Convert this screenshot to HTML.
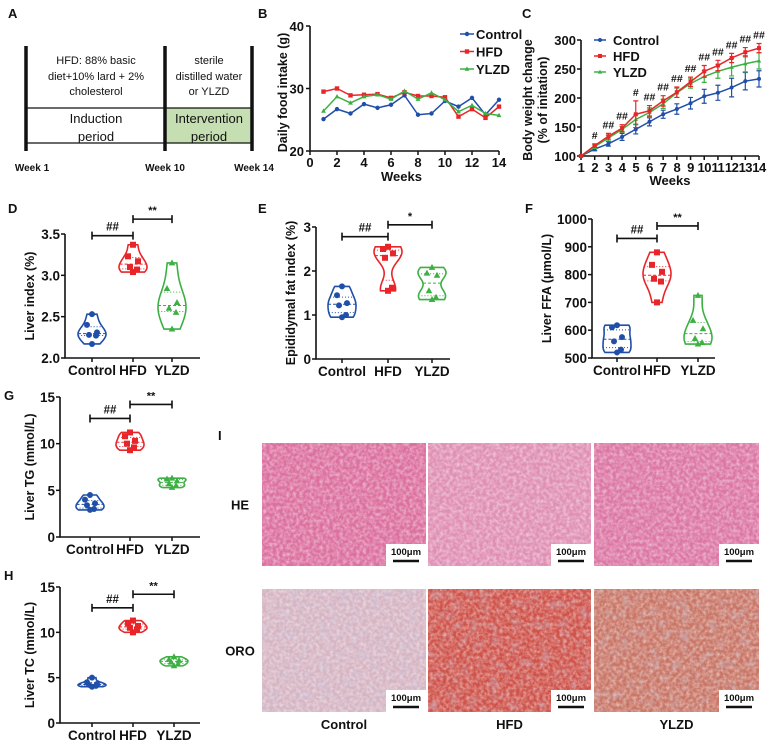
<!DOCTYPE html>
<html><head><meta charset="utf-8"><style>
html,body{margin:0;padding:0;background:#fff;}
svg{display:block;font-family:"Liberation Sans",Arial,sans-serif;font-weight:bold;}
text{fill:#111;}
</style></head><body>
<svg id="fig" width="767" height="744" viewBox="0 0 767 744" xmlns="http://www.w3.org/2000/svg">
<defs>
<filter id="tex" x="0" y="0" width="100%" height="100%"><feTurbulence type="fractalNoise" baseFrequency="0.3" numOctaves="2" seed="3"/><feColorMatrix type="matrix" values="0 0 0 0 1  0 0 0 0 1  0 0 0 0 1  0 0 0 -1.8 1.2"/></filter>
<filter id="tex2" x="0" y="0" width="100%" height="100%"><feTurbulence type="fractalNoise" baseFrequency="0.1" numOctaves="2" seed="7"/><feColorMatrix type="matrix" values="0 0 0 0 0.55  0 0 0 0 0.6  0 0 0 0 0.8  0 0 0 -1.8 0.9"/></filter>
</defs>
</svg>
<script>
// ---------- data ----------
const weeksB = [1,2,3,4,5,6,7,8,9,10,11,12,13,14];
const foodControl = [25.1,26.7,26.0,27.5,26.9,27.4,28.9,25.8,26.0,28.0,27.1,28.5,25.8,28.2];
const foodHFD = [29.5,30.0,28.9,29.0,29.1,28.5,29.4,28.8,28.8,28.6,25.5,26.7,25.3,27.1];
const foodYLZD = [26.4,28.7,27.7,28.7,29.0,28.3,29.6,28.3,29.3,28.2,26.3,27.3,26.0,25.7];
const ticksB_x = [0,2,4,6,8,10,12,14];
const ticksB_y = [20,30,40];

const weeksC = [1,2,3,4,5,6,7,8,9,10,11,12,13,14];
const bwControl = [100,112,121,133,146,159,172,181,191,203,209,218,229,233];
const bwControlErr = [1,3,4,6,8,7,7,9,10,12,13,16,15,14];
const bwHFD = [100,118,134,148,172,178,195,210,228,246,256,269,279,286];
const bwHFDErr = [1,3,5,6,23,9,9,9,8,10,9,8,8,8];
const bwYLZD = [100,116,131,146,163,175,190,209,225,237,246,253,259,264];
const bwYLZDErr = [1,3,5,5,8,8,8,8,8,10,12,15,14,14];
const sigC = ['','#','##','##','#','##','##','##','##','##','##','##','##','##'];
const ticksC_y = [100,150,200,250,300];

const groups = ['Control','HFD','YLZD'];
const liverIndex = [[2.53,2.40,2.31,2.28,2.27,2.17],[3.37,3.23,3.17,3.10,3.07,3.04],[3.15,2.84,2.67,2.60,2.55,2.35]];
const fatIndex = [[1.65,1.45,1.27,1.22,1.00,0.95],[2.55,2.50,2.40,2.30,1.62,1.55],[2.08,1.95,1.90,1.55,1.40,1.35]];
const liverFFA = [[618,610,575,560,530,520],[880,835,810,785,775,700],[725,635,605,570,555,550]];
const liverTG = [[4.5,4.0,3.6,3.4,3.0,2.9],[11.2,10.8,10.3,10.0,9.6,9.3],[6.3,6.2,6.0,5.7,5.5,5.3]];
const liverTC = [[5.0,4.5,4.3,4.2,4.1,4.0],[11.3,11.0,10.7,10.5,10.3,10.0],[7.3,7.0,6.9,6.7,6.5,6.3]];

const svg = document.getElementById('fig');
const NS = 'http://www.w3.org/2000/svg';
const colors = {Control:'#1f4fa8', HFD:'#e8262a', YLZD:'#3cb043'};
function mk(tag, attrs, parent){ const e=document.createElementNS(NS,tag); for(const k in attrs) e.setAttribute(k,attrs[k]); (parent||svg).appendChild(e); return e; }
function txt(x,y,s,size,anchor,parent,extra){ const t=mk('text',Object.assign({x:x,y:y,'font-size':size,'text-anchor':anchor||'middle'},extra||{}),parent); t.textContent=s; return t; }

// panel letters
[['A',8,18],['B',258,18],['C',522,18],['D',8,213],['E',258,213],['F',525,213],['G',4,400],['H',4,580],['I',218,440]].forEach(p=>{
  const t=txt(p[1],p[2],p[0],13,'start');
  
  
});

// ---------- Panel A ----------
(function(){
  const g=mk('g',{});
  
  
  const fill=mk('rect',{x:165,y:108,width:87,height:35,fill:'#c6dfb2'},g);
  
  
  [108,143].forEach(y=>{ const l=mk('line',{x1:26,x2:252,y1:y,y2:y,stroke:'#111','stroke-width':1.3},g);
    
     });
  [26,165,252].forEach(x=>{ const l=mk('line',{x1:x,x2:x,y1:46,y2:151,stroke:'#111','stroke-width':3.5},g);
    
     });
  const lines=[[96,64,'HFD: 88% basic'],[96,80,'diet+10% lard + 2%'],[96,95,'cholesterol'],[209,64,'sterile'],[209,80,'distilled water'],[209,95,'or YLZD']];
  lines.forEach(l=>{ const t=txt(l[0],l[1],l[2],11,'middle',g,{'font-weight':'normal'});
    
     });
  [[96,123,'Induction'],[96,141,'period'],[209,123,'Intervention'],[209,141,'period']].forEach(l=>{
    const t=txt(l[0],l[1],l[2],13,'middle',g,{'font-weight':'normal'});
    
     });
  [[32,171,'Week 1'],[165,171,'Week 10'],[254,171,'Week 14']].forEach(l=>{
    const t=txt(l[0],l[1],l[2],10,'middle',g);
    
     });
})();

// marker helper
function marker(g,kind,x,y,c,r){
  let m;
  if(kind==='Control') m=mk('circle',{cx:x,cy:y,r:r,fill:c},g);
  else if(kind==='HFD') m=mk('rect',{x:x-r,y:y-r,width:2*r,height:2*r,fill:c},g);
  else m=mk('polygon',{points:`${x},${y-r*1.2} ${x-r*1.1},${y+r*0.8} ${x+r*1.1},${y+r*0.8}`,fill:c},g);
  return m;
}

// ---------- Panel B ----------
(function(){
  const X0=310,X1=499,Y0=151,Y1=26;
  const sx=v=>X0+v*(X1-X0)/14, sy=v=>Y0-(v-20)*(Y0-Y1)/20;
  const g=mk('g',{});
  
  
  const ax=mk('path',{d:`M${X0},${Y1} V${Y0} H${X1}`,fill:'none',stroke:'#111','stroke-width':1.6},g);
  
  
  ticksB_y.forEach(v=>{ mk('line',{x1:X0-4,x2:X0,y1:sy(v),y2:sy(v),stroke:'#111','stroke-width':1.5},g);
    const t=txt(X0-6,sy(v)+5,String(v),13,'end',g);
    
     });
  ticksB_x.forEach(v=>{ mk('line',{x1:sx(v),x2:sx(v),y1:Y0,y2:Y0+4,stroke:'#111','stroke-width':1.5},g);
    const t=txt(sx(v),Y0+16,String(v),13,'middle',g);
    
     });
  const xt=txt((X0+X1)/2-3,181,'Weeks',13,'middle',g);
  
  
  const yt=txt(0,0,'Daily food intake (g)',12.5,'middle',g,{transform:`translate(287,${(Y0+Y1)/2+4}) rotate(-90)`});
  
  
  [['Control',foodControl],['HFD',foodHFD],['YLZD',foodYLZD]].forEach(([n,arr])=>{
    const c=colors[n];
    const pl=mk('polyline',{points:arr.map((v,i)=>sx(weeksB[i])+','+sy(v)).join(' '),fill:'none',stroke:c,'stroke-width':1.5},g);
    
    
    arr.forEach((v,i)=>{ const m=marker(g,n,sx(weeksB[i]),sy(v),c,2.2);
      
       });
  });
  ['Control','HFD','YLZD'].forEach((n,i)=>{
    const y=34+i*17.5, c=colors[n];
    mk('line',{x1:460,x2:474,y1:y,y2:y,stroke:c,'stroke-width':1.5},g);
    const m=marker(g,n,467,y,c,2.2);
    
    
    const t=txt(476,y+5,n,13,'start',g);
    
    
  });
})();

// ---------- Panel C ----------
(function(){
  const X0=581,X1=759,Y0=156,Y1=40;
  const sx=v=>X0+(v-1)*(X1-X0)/13, sy=v=>Y0-(v-100)*(Y0-Y1)/200;
  const g=mk('g',{});
  
  
  const ax=mk('path',{d:`M${X0},${Y1} V${Y0} H${X1}`,fill:'none',stroke:'#111','stroke-width':1.6},g);
  
  
  ticksC_y.forEach(v=>{ mk('line',{x1:X0-4,x2:X0,y1:sy(v),y2:sy(v),stroke:'#111','stroke-width':1.5},g);
    const t=txt(X0-5,sy(v)+5,String(v),13,'end',g);
    
     });
  weeksC.forEach(v=>{ mk('line',{x1:sx(v),x2:sx(v),y1:Y0,y2:Y0+4,stroke:'#111','stroke-width':1.5},g);
    const t=txt(sx(v),Y0+16,String(v),13,'middle',g,{'letter-spacing':'-0.5'});
    
     });
  const xt=txt((X0+X1)/2,185,'Weeks',13,'middle',g);
  
  
  const yt=txt(0,0,'Body weight change',12.5,'middle',g,{transform:`translate(532,${(Y0+Y1)/2+2}) rotate(-90)`});
  
  
  const yt2=txt(0,0,'(% of initation)',12.5,'middle',g,{transform:`translate(547,${(Y0+Y1)/2+2}) rotate(-90)`});
  
  
  [['Control',bwControl,bwControlErr],['YLZD',bwYLZD,bwYLZDErr],['HFD',bwHFD,bwHFDErr]].forEach(([n,arr,err])=>{
    const c=colors[n];
    arr.forEach((v,i)=>{ const x=sx(weeksC[i]);
      const eb=mk('path',{d:`M${x},${sy(v-err[i])} V${sy(v+err[i])} M${x-2.5},${sy(v+err[i])} H${x+2.5} M${x-2.5},${sy(v-err[i])} H${x+2.5}`,stroke:c,'stroke-width':1.2,fill:'none'},g);
      
       });
    const pl=mk('polyline',{points:arr.map((v,i)=>sx(weeksC[i])+','+sy(v)).join(' '),fill:'none',stroke:c,'stroke-width':1.5},g);
    
    
    arr.forEach((v,i)=>{ const m=marker(g,n,sx(weeksC[i]),sy(v),c,2);
      
       });
  });
  sigC.forEach((s,i)=>{ if(!s) return;
    const t=txt(sx(weeksC[i]),sy(bwHFD[i]+bwHFDErr[i])-5,s,10.5,'middle',g);
    
     });
  ['Control','HFD','YLZD'].forEach((n,i)=>{
    const y=40+i*16, c=colors[n];
    mk('line',{x1:594,x2:606,y1:y,y2:y,stroke:c,'stroke-width':1.5},g);
    const m=marker(g,n,600,y,c,2);
    
    
    const t=txt(613,y+5,n,13,'start',g);
    
    
  });
})();

// ---------- Violin panels ----------
function violinPanel(cfg){
  const {name,data,ax,x0,x1,yTop,yBot,vmin,vmax,ticks,fmt,cats,title,titleX,sig}=cfg;
  const sy=v=>yBot-(v-vmin)*(yBot-yTop)/(vmax-vmin);
  const g=mk('g',{});
  
  
  const a=mk('path',{d:`M${ax},${yTop} V${yBot} H${x1}`,fill:'none',stroke:'#111','stroke-width':1.6},g);
  
  
  ticks.forEach(v=>{ mk('line',{x1:ax-4,x2:ax,y1:sy(v),y2:sy(v),stroke:'#111','stroke-width':1.5},g);
    const t=txt(ax-5,sy(v)+5,fmt(v),13.5,'end',g);
    
     });
  cats.forEach((cx,i)=>{
    mk('line',{x1:cx,x2:cx,y1:yBot,y2:yBot+4,stroke:'#111','stroke-width':1.5},g);
    const t=txt(cx,yBot+17,groups[i],13.5,'middle',g);
    
    
  });
  const yt=txt(0,0,title,12.5,'middle',g,{transform:`translate(${titleX},${(yTop+yBot)/2}) rotate(-90)`});
  
  
  data.forEach((pts,i)=>{
    const n=groups[i], c=colors[n], cx=cats[i];
    const s=[...pts].sort((a,b)=>a-b), lo=s[0], hi=s[s.length-1];
    const h=(hi-lo)*0.22||1;
    const N=30, dens=[];
    for(let k=0;k<=N;k++){ const v=lo+(hi-lo)*k/N; let d=0; s.forEach(p=>{d+=Math.exp(-0.5*((v-p)/h)**2);}); dens.push([v,d]); }
    const mx=Math.max(...dens.map(d=>d[1]));
    const W=v=>{ let d=0; s.forEach(p=>{d+=Math.exp(-0.5*((v-p)/h)**2);}); return 14*d/mx; };
    let d='M'+dens.map(([v,w])=>(cx+14*w/mx)+','+sy(v)).join(' L');
    d+=' L'+dens.slice().reverse().map(([v,w])=>(cx-14*w/mx)+','+sy(v)).join(' L')+' Z';
    const vp=mk('path',{d:d,fill:'none',stroke:c,'stroke-width':1.6},g);
    
    
    const q=f=>{ const p=(s.length-1)*f, l=Math.floor(p); return s[l]+(s[Math.min(l+1,s.length-1)]-s[l])*(p-l); };
    [[q(0.5),'3,2'],[q(0.25),'1,2'],[q(0.75),'1,2']].forEach(([v,da])=>{ const w=W(v);
      const l=mk('line',{x1:cx-w,x2:cx+w,y1:sy(v),y2:sy(v),stroke:c,'stroke-width':1,'stroke-dasharray':da},g);
      
       });
    const offs=[0,-5,5,-3,4,0];
    pts.forEach((v,k)=>{ const m=marker(g,n,cx+offs[k%offs.length],sy(v),c,3);
      
       });
  });
  sig.forEach(([a,b,v,label])=>{
    const y=sy(v), xa=cats[a], xb=cats[b];
    const br=mk('path',{d:`M${xa},${y} H${xb} M${xa},${y-4} V${y+4} M${xb},${y-4} V${y+4}`,stroke:'#111','stroke-width':1.6,fill:'none'},g);
    
    
    const t=txt((xa+xb)/2,y-5,label,label.startsWith('#')?11.5:11,'middle',g);
    
    
  });
}
violinPanel({name:'liver-index-chart',data:liverIndex,ax:65,x1:200,yTop:234,yBot:358,vmin:2,vmax:3.5,ticks:[2,2.5,3,3.5],fmt:v=>v.toFixed(1),cats:[92,133,172],title:'Liver index (%)',titleX:34,sig:[[0,1,3.48,'##'],[1,2,3.68,'**']]});
violinPanel({name:'epididymal-fat-chart',data:fatIndex,ax:316,x1:450,yTop:227,yBot:359,vmin:0,vmax:3,ticks:[0,1,2,3],fmt:v=>String(v),cats:[342,388,432],title:'Epididymal fat index (%)',titleX:295,sig:[[0,1,2.78,'##'],[1,2,3.05,'*']]});
violinPanel({name:'liver-ffa-chart',data:liverFFA,ax:592,x1:715,yTop:219,yBot:358,vmin:500,vmax:1000,ticks:[500,600,700,800,900,1000],fmt:v=>String(v),cats:[617,657,698],title:'Liver FFA (μmol/L)',titleX:551,sig:[[0,1,930,'##'],[1,2,975,'**']]});
violinPanel({name:'liver-tg-chart',data:liverTG,ax:60,x1:200,yTop:397,yBot:537,vmin:0,vmax:15,ticks:[0,5,10,15],fmt:v=>String(v),cats:[90,130,172],title:'Liver TG (mmol/L)',titleX:34,sig:[[0,1,12.7,'##'],[1,2,14.2,'**']]});
violinPanel({name:'liver-tc-chart',data:liverTC,ax:60,x1:200,yTop:587,yBot:723,vmin:0,vmax:15,ticks:[0,5,10,15],fmt:v=>String(v),cats:[92,133,174],title:'Liver TC (mmol/L)',titleX:34,sig:[[0,1,12.7,'##'],[1,2,14.2,'**']]});

// ---------- Panel I micrographs ----------
(function(){
  const cols=[[262,426],[428,591],[594,759]];
  const rows=[[443,566,'HE'],[589,712,'ORO']];
  const base={HE:['#dc6f9f','#e08fb4','#dc76a4'],ORO:['#d6b4c2','#cf5249','#c97565']};
  const g=mk('g',{});
  
  
  rows.forEach(([y0,y1,lab])=>{
    const t=txt(240,(y0+y1)/2+5,lab,13,'middle',g);
    
    
    cols.forEach(([x0,x1],i)=>{
      const r=mk('rect',{x:x0,y:y0,width:x1-x0,height:y1-y0,fill:base[lab][i]},g);
      
      
      mk('rect',{x:x0,y:y0,width:x1-x0,height:y1-y0,filter:'url(#tex)',opacity:0.5},g);
      if(lab==='ORO') mk('rect',{x:x0,y:y0,width:x1-x0,height:y1-y0,filter:'url(#tex2)',opacity:0.5},g);
      const sb=mk('rect',{x:x1-40,y:y1-22,width:40,height:22,fill:'#fff'},g);
      
      
      txt(x1-20,y1-11,'100μm',9.5,'middle',g);
      mk('line',{x1:x1-33,x2:x1-7,y1:y1-5,y2:y1-5,stroke:'#111','stroke-width':2.5},g);
    });
  });
  cols.forEach(([x0,x1],i)=>{
    const t=txt((x0+x1)/2,729,groups[i],13,'middle',g);
    
    
  });
})();
</script>
</body></html>
